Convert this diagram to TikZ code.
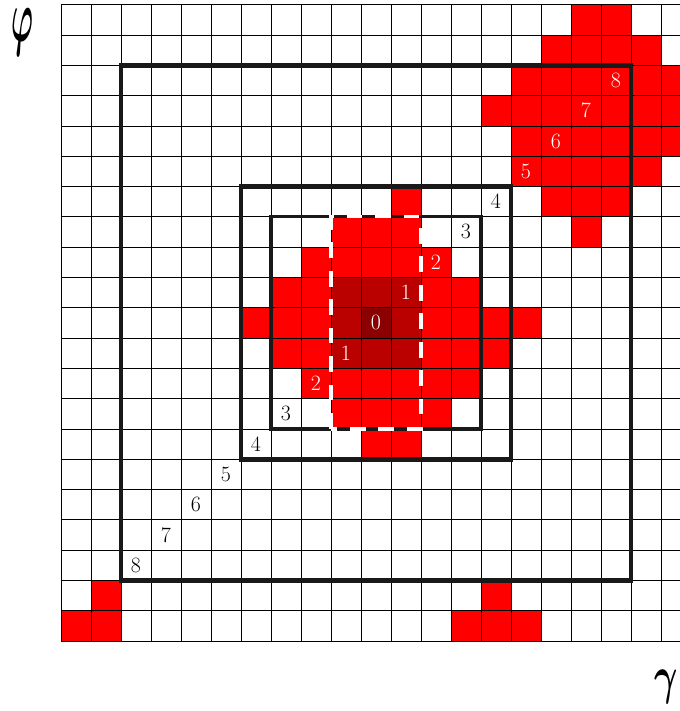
\documentclass[tikz,border=0pt]{standalone}
\usepackage{amsmath, amssymb}
\usepackage{tikz}
\usetikzlibrary{positioning}

\definecolor{hitred}{RGB}{255,0,0}
\definecolor{hitdark}{RGB}{187,0,0}
\definecolor{hitdarker}{RGB}{139,0,0}

\begin{document}
\begin{tikzpicture}[
                x=1cm, y=1.01cm,
                cell/.style={fill=hitred},
                gridline/.style={black, line width=0.6pt},
                ring/.style={black!90, line width=4.5pt},
                thinring/.style={black!90, line width=3.2pt},
                window/.style={white, line width=3.2pt, dash pattern=on 15pt off 12pt},
                onred/.style={white, font=\huge, inner sep=0pt},
                onwhite/.style={black, font=\huge, inner sep=0pt},
                axislabel/.style={inner sep=0pt}
            ]
            \useasboundingbox (-2.033,-2.31) rectangle (20.633,21.155);
            \clip (-2.033,-2.31) rectangle (20.633,21.155);

            % red cells, one row at a time (row counted from the bottom)
            \foreach \y/\xs in {20/{17,18}, 19/{16,...,19}, 18/{15,...,20},
                                17/{14,...,20}, 16/{15,...,20}, 15/{15,...,19},
                                14/{11,16,17,18}, 13/{9,10,11,17}, 12/{8,...,12},
                                11/{7,...,13}, 10/{6,...,15}, 9/{7,...,14},
                                8/{8,...,13}, 7/{9,...,12}, 6/{10,11},
                                1/{1,14}, 0/{0,1,13,14,15}}
                {\foreach \x in \xs {\fill[cell] (\x,\y) rectangle ++(1,1);}}
            \fill[hitdark] (9,9) rectangle (12,12);
            \fill[hitdarker] (10,10) rectangle (11,11);

            \draw[gridline] (0,0) grid[step=1] (21,21);

            \draw[ring] (2,2) rectangle (19,19);
            \draw[ring] (6,6) rectangle (15,15);
            \draw[thinring] (7,7) rectangle (14,14);
            \draw[window] (9,7) rectangle (12,14);

            % distance labels
            \foreach \x/\y/\t in {18/18/8, 17/17/7, 16/16/6, 15/15/5,
                                  12/12/2, 11/11/1, 10/10/0, 9/9/1, 8/8/2}
                {\node[onred] (lab-\x-\y) at (\x+0.5,\y+0.5) {\t};}
            \foreach \x/\y/\t in {14/14/4, 13/13/3, 7/7/3, 6/6/4,
                                  5/5/5, 4/4/6, 3/3/7, 2/2/8}
                {\node[onwhite] (lab-\x-\y) at (\x+0.5,\y+0.5) {\t};}

            \node[axislabel, xscale=2.8, yscale=7.0] (phi) at (-1.29,20.08) {$\boldsymbol{\varphi}$};
            \node[axislabel, xscale=3.4, yscale=5.0, anchor=east] (gamma) at (20.6,-1.52) {$\boldsymbol{\gamma}$};
            \end{tikzpicture}
\end{document}
